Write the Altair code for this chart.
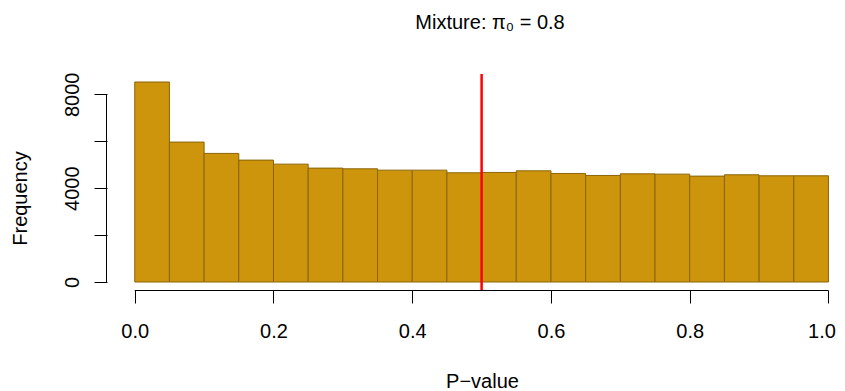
import altair as alt
import pandas as pd

# Histogram bins (P-value) and counts
bin_start = [0.00, 0.05, 0.10, 0.15, 0.20, 0.25, 0.30, 0.35, 0.40, 0.45,
             0.50, 0.55, 0.60, 0.65, 0.70, 0.75, 0.80, 0.85, 0.90, 0.95]
bin_end = [0.05, 0.10, 0.15, 0.20, 0.25, 0.30, 0.35, 0.40, 0.45, 0.50,
           0.55, 0.60, 0.65, 0.70, 0.75, 0.80, 0.85, 0.90, 0.95, 1.00]
counts = [8525, 5964, 5481, 5195, 5024, 4854, 4825, 4768, 4768, 4655,
          4669, 4740, 4626, 4541, 4612, 4598, 4513, 4570, 4527, 4527]

x_ticks = [0.0, 0.2, 0.4, 0.6, 0.8, 1.0]
y_ticks = [0, 2000, 4000, 6000, 8000]
cutoff = [0.5]
title_text = "Mixture: π₀ = 0.8"
x_title = "P\u2212value"
y_title = "Frequency"

W, H = 730, 216
FONT = "Liberation Sans"

df = pd.DataFrame({"x0": bin_start, "x1": bin_end, "count": counts})

xscale = alt.Scale(domain=[-0.04, 1.0123], nice=False, zero=False)
yscale = alt.Scale(domain=[-341, 8866], nice=False, zero=False)

xaxis = alt.Axis(
    values=x_ticks, format=".1f", domain=False, grid=False,
    tickSize=13, tickColor="black", tickWidth=1,
    labelFont=FONT, labelFontSize=20, labelColor="black",
    labelPadding=34, labelBaseline="alphabetic", labelFlush=False,
    labelOverlap=False,
    labelOffset=alt.condition("datum.value == 1", alt.value(-7), alt.value(0)),
    title=x_title, titleFont=FONT, titleFontSize=20, titleFontWeight="normal",
    titleColor="black", titleX=375, titleY=97, titleBaseline="alphabetic",
    titleAlign="center",
)
yaxis = alt.Axis(
    values=y_ticks, domain=False, grid=False,
    tickSize=13, tickColor="black", tickWidth=1,
    labelExpr="indexof([0,4000,8000], datum.value) >= 0 ? datum.label : ''",
    format="d", labelOverlap=False,
    labelFont=FONT, labelFontSize=20, labelColor="black",
    labelAngle=270, labelAlign="center", labelBaseline="alphabetic",
    labelPadding=16, labelFlush=False,
    title=y_title, titleFont=FONT, titleFontSize=20, titleFontWeight="normal",
    titleColor="black", titleAngle=270, titleX=-81, titleY=124,
    titleBaseline="alphabetic", titleAlign="center",
)

bars = alt.Chart(df).mark_rect(
    fill="#CD950C", stroke="#8B6508", strokeWidth=1
).encode(
    x=alt.X("x0:Q", scale=xscale, axis=xaxis, title=x_title),
    x2="x1:Q",
    y=alt.Y("count:Q", scale=yscale, axis=yaxis, title=y_title),
    y2=alt.datum(0),
)

xline = alt.Chart(pd.DataFrame({"a": [x_ticks[0]], "b": [x_ticks[-1]]})).mark_rule(
    color="black", strokeWidth=1
).encode(
    x=alt.X("a:Q", scale=xscale, axis=xaxis, title=x_title),
    x2="b:Q",
    y=alt.value(H + 0.5),
)

yline = alt.Chart(pd.DataFrame({"c": [y_ticks[0]], "d": [y_ticks[-1]]})).mark_rule(
    color="black", strokeWidth=1
).encode(
    y=alt.Y("c:Q", scale=yscale, axis=yaxis, title=y_title),
    y2="d:Q",
    x=alt.value(-0.5),
)

redline = alt.Chart(pd.DataFrame({"v": cutoff})).mark_rule(
    color="#FF0000", strokeWidth=2.5
).encode(
    x=alt.X("v:Q", scale=xscale, axis=xaxis, title=x_title),
    y=alt.value(0),
    y2=alt.value(H),
)

title = alt.Chart(pd.DataFrame({"t": [title_text]})).mark_text(
    font=FONT, fontSize=20, color="black", align="center", baseline="alphabetic"
).encode(
    text="t:N",
    x=alt.value(383),
    y=alt.value(-45),
)

chart = alt.layer(bars, xline, yline, redline, title).properties(
    width=W, height=H,
    padding={"left": 99, "top": 66, "right": 0, "bottom": 100},
    autosize=alt.AutoSizeParams(type="none"),
    background="white",
).configure_view(stroke=None)

chart.save("out.html", embed_options={"renderer": "svg", "actions": False})
